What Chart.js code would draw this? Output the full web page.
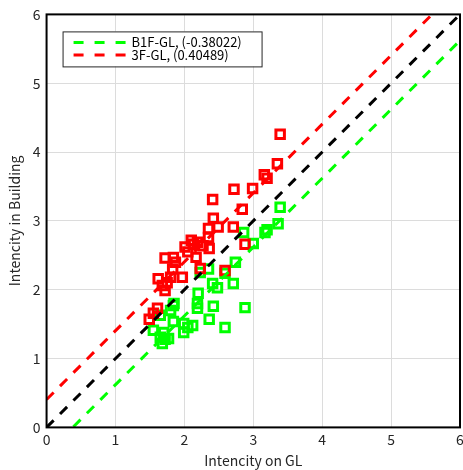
<!DOCTYPE html>
<html><head><meta charset="utf-8">
<script src="https://cdn.jsdelivr.net/npm/chart.js@4"></script>
<style>html,body{margin:0;padding:0;background:#fff;overflow:hidden}#wrap{width:469px;height:470px}</style>
</head><body><div id="wrap"><canvas id="c"></canvas></div>
<script>
const axisTicks = [0, 1, 2, 3, 4, 5, 6];
const seriesLabels = ['B1F-GL, (-0.38022)', '3F-GL, (0.40489)'];
const b1fOffset = -0.38022;
const f3Offset = 0.40489;

const b1fX = [3.39,3.36,3.20,3.17,3.00,2.86,2.74,2.35,2.23,2.71,2.41,2.48,2.20,1.84,2.19,2.19,2.42,2.88,1.80,1.65,1.84,1.99,2.12,2.36,2.59,1.55,1.70,1.99,1.65,1.77,1.68,2.59,1.85,2.05,1.72];
const b1fY = [3.20,2.96,2.87,2.83,2.67,2.83,2.40,2.30,2.25,2.09,2.09,2.03,1.95,1.77,1.80,1.73,1.76,1.74,1.70,1.63,1.54,1.51,1.48,1.57,1.45,1.41,1.38,1.38,1.31,1.29,1.22,2.24,1.80,1.45,1.28];

const f3X = [3.39,3.35,3.16,3.20,2.99,2.72,2.41,2.84,2.42,2.71,2.49,2.35,2.35,2.88,2.10,2.19,2.01,2.36,2.17,1.72,1.84,2.23,2.59,1.87,1.62,1.80,1.97,1.68,1.72,1.61,1.55,1.49,2.13,2.27,1.75,1.83,2.05];
const f3Y = [4.26,3.83,3.67,3.62,3.47,3.46,3.31,3.17,3.04,2.91,2.91,2.89,2.76,2.66,2.72,2.69,2.62,2.60,2.47,2.46,2.47,2.31,2.28,2.40,2.16,2.18,2.18,2.06,1.99,1.73,1.66,1.57,2.66,2.64,2.10,2.30,2.55];

const GREEN = '#00ff00', RED = '#ff0000';
const FONT = '"Noto Sans CJK JP", "DejaVu Sans", sans-serif';
const toPts = (xs, ys) => xs.map((x, i) => ({x, y: ys[i]}));
const lo = axisTicks[0], hi = axisTicks[axisTicks.length - 1];
const fitLine = off => [{x: lo, y: lo + off}, {x: hi, y: hi + off}];

const lineBase = {type: 'line', showLine: true, pointRadius: 0, borderWidth: 3, borderDash: [10, 9], fill: false, clip: 0};

const boxPlugin = {
  id: 'box',
  afterDatasetsDraw(chart) {
    const {ctx, chartArea: a} = chart;
    ctx.save();
    ctx.strokeStyle = '#000'; ctx.lineWidth = 2;
    ctx.strokeRect(a.left, a.top, a.right - a.left, a.bottom - a.top);
    // legend
    const lx = a.left + 16, ly = a.top + 17, lw = 199, lh = 35;
    ctx.fillStyle = '#fff'; ctx.fillRect(lx, ly, lw, lh);
    ctx.strokeStyle = '#262626'; ctx.lineWidth = 1;
    ctx.strokeRect(lx + 0.5, ly + 0.5, lw, lh);
    const items = [[seriesLabels[0], GREEN], [seriesLabels[1], RED]];
    items.forEach((it, i) => {
      const yy = ly + 11 + i * 12.5;
      ctx.strokeStyle = it[1]; ctx.lineWidth = 3; ctx.setLineDash([10, 11]);
      ctx.beginPath(); ctx.moveTo(lx + 11, yy); ctx.lineTo(lx + 63, yy); ctx.stroke();
      ctx.setLineDash([]);
      ctx.fillStyle = '#000'; ctx.font = '13px ' + FONT; ctx.textBaseline = 'middle';
      ctx.fillText(it[0], lx + 69, yy);
    });
    ctx.restore();
  }
};

new Chart(document.getElementById('c'), {
  type: 'scatter',
  data: {
    datasets: [
      Object.assign({}, lineBase, {label: 'y=x', data: fitLine(0), borderColor: '#000'}),
      Object.assign({}, lineBase, {label: seriesLabels[0] + ' fit', data: fitLine(b1fOffset), borderColor: GREEN}),
      Object.assign({}, lineBase, {label: seriesLabels[1] + ' fit', data: fitLine(f3Offset), borderColor: RED}),
      {label: seriesLabels[1], data: toPts(f3X, f3Y), pointStyle: 'rect', pointRadius: 6, borderWidth: 3, borderColor: RED, backgroundColor: 'rgba(0,0,0,0)'},
      {label: seriesLabels[0], data: toPts(b1fX, b1fY), pointStyle: 'rect', pointRadius: 6, borderWidth: 3, borderColor: GREEN, backgroundColor: 'rgba(0,0,0,0)'}
    ]
  },
  options: {
    responsive: true, maintainAspectRatio: false, animation: false,
    layout: {padding: {top: 14, left: 6, right: 0, bottom: 1}},
    plugins: {legend: {display: false}, tooltip: {enabled: false}},
    scales: {
      x: {
        type: 'linear', min: lo, max: hi,
        afterBuildTicks: s => { s.ticks = axisTicks.map(v => ({value: v})); },
        ticks: {font: {family: FONT, size: 14}, color: '#262626', padding: 4},
        grid: {color: '#dcdcdc', lineWidth: 1, drawTicks: false},
        border: {display: false},
        title: {display: true, text: 'Intencity on GL', font: {family: FONT, size: 14}, color: '#262626', padding: {top: 0, bottom: 0}}
      },
      y: {
        type: 'linear', min: lo, max: hi,
        afterBuildTicks: s => { s.ticks = axisTicks.map(v => ({value: v})); },
        ticks: {font: {family: FONT, size: 14}, color: '#262626', padding: 6},
        grid: {color: '#dcdcdc', lineWidth: 1, drawTicks: false},
        border: {display: false},
        title: {display: true, text: 'Intencity in Building', font: {family: FONT, size: 14}, color: '#262626', padding: {top: 0, bottom: 4}}
      }
    }
  },
  plugins: [boxPlugin]
});
</script></body></html>
